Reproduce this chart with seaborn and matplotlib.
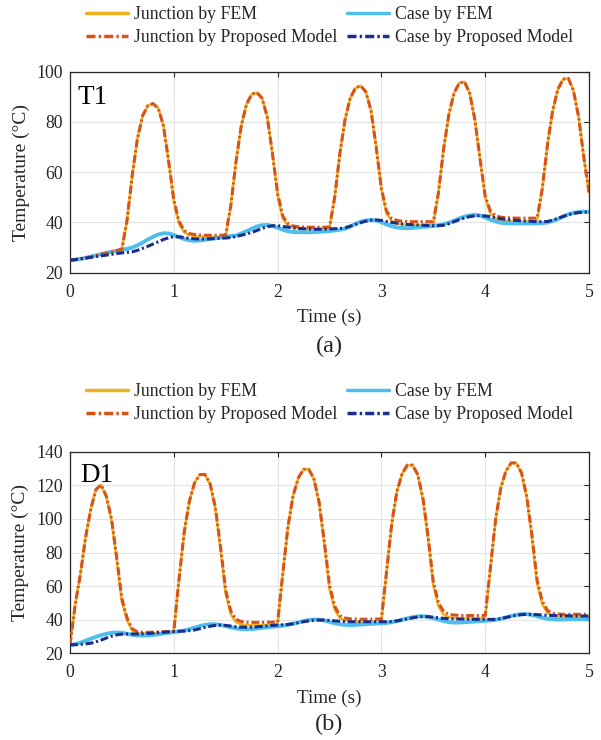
import numpy as np
import matplotlib
matplotlib.use("Agg")
import matplotlib.pyplot as plt
import seaborn as sns

# ---------------- data ----------------
time_s = np.round(np.arange(0, 101) * 0.05, 2)   # 0.00 ... 5.00 s

t1_junction_fem = [
    25.0, 25.3, 25.6, 26.0, 26.4, 26.9, 27.4, 27.9, 28.4, 28.9,
    29.5, 41.0, 59.0, 73.5, 82.5, 86.5, 87.3, 85.5, 78.5, 64.5,
    48.5, 39.5, 36.0, 35.0, 34.6, 34.4, 34.3, 34.3, 34.3, 34.4,
    34.6, 47.0, 64.5, 78.5, 87.0, 91.0, 91.7, 89.5, 82.0, 67.5,
    51.0, 41.5, 38.8, 38.0, 37.7, 37.5, 37.4, 37.4, 37.4, 37.5,
    37.7, 50.0, 67.5, 81.0, 89.5, 93.5, 94.4, 92.0, 84.5, 70.0,
    53.0, 43.5, 40.5, 39.6, 39.2, 39.0, 38.9, 38.9, 39.0, 39.1,
    39.3, 52.0, 69.5, 83.0, 91.5, 95.5, 96.0, 91.5, 81.0, 65.0,
    50.0, 43.5, 41.5, 40.8, 40.5, 40.4, 40.3, 40.3, 40.4, 40.5,
    40.7, 53.5, 71.0, 84.5, 93.0, 97.0, 97.4, 92.5, 82.0, 66.0,
    52.0]

t1_junction_model = [
    25.0, 25.2, 25.5, 25.9, 26.3, 26.8, 27.3, 27.8, 28.3, 28.8,
    29.4, 41.0, 59.0, 73.5, 82.5, 86.5, 87.3, 85.5, 78.5, 64.5,
    49.0, 40.5, 36.8, 35.6, 35.2, 35.0, 34.9, 34.9, 34.9, 34.9,
    35.0, 47.0, 64.5, 78.5, 87.0, 91.0, 91.7, 89.5, 82.0, 67.5,
    51.5, 42.5, 39.5, 38.6, 38.3, 38.2, 38.1, 38.1, 38.1, 38.1,
    38.2, 50.0, 67.5, 81.0, 89.5, 93.5, 94.4, 92.0, 84.5, 70.0,
    53.5, 44.5, 41.5, 40.8, 40.5, 40.4, 40.3, 40.3, 40.3, 40.3,
    40.3, 52.0, 69.5, 83.0, 91.5, 95.5, 96.0, 91.5, 81.0, 65.5,
    50.5, 44.5, 42.7, 42.1, 41.9, 41.8, 41.7, 41.7, 41.7, 41.7,
    41.7, 53.5, 71.0, 84.5, 93.0, 97.0, 97.4, 92.5, 82.0, 66.0,
    52.0]

t1_case_fem = [
    25.0, 25.2, 25.5, 25.9, 26.4, 26.9, 27.4, 27.9, 28.3, 28.7,
    29.1, 29.5, 30.0, 30.9, 32.0, 33.2, 34.3, 35.2, 35.7, 35.6,
    35.0, 34.2, 33.4, 32.9, 32.7, 32.8, 33.1, 33.4, 33.7, 34.0,
    34.3, 34.6, 34.8, 35.6, 36.5, 37.5, 38.4, 38.9, 39.0, 38.6,
    37.9, 37.1, 36.5, 36.2, 36.1, 36.1, 36.1, 36.2, 36.3, 36.4,
    36.6, 36.8, 37.1, 37.5, 38.4, 39.4, 40.3, 40.8, 41.0, 40.8,
    40.1, 39.2, 38.5, 38.0, 37.8, 37.7, 37.8, 38.0, 38.2, 38.4,
    38.6, 38.9, 39.3, 39.9, 40.7, 41.6, 42.3, 42.8, 43.0, 42.8,
    42.0, 41.1, 40.4, 39.9, 39.7, 39.6, 39.6, 39.6, 39.6, 39.6,
    39.6, 39.7, 40.0, 40.6, 41.4, 42.3, 43.2, 43.8, 44.2, 44.3,
    44.2]

t1_case_model = [
    25.0, 25.2, 25.5, 25.8, 26.1, 26.4, 26.7, 27.0, 27.3, 27.6,
    27.9, 28.1, 28.3, 28.9, 29.7, 30.5, 31.4, 32.3, 33.2, 33.9,
    34.3, 34.3, 34.0, 33.7, 33.5, 33.4, 33.4, 33.5, 33.6, 33.7,
    33.8, 34.0, 34.4, 34.9, 35.4, 36.0, 36.8, 37.6, 38.3, 38.7,
    38.7, 38.4, 38.1, 37.8, 37.6, 37.5, 37.4, 37.3, 37.3, 37.3,
    37.4, 37.5, 37.6, 37.9, 38.5, 39.2, 39.9, 40.5, 40.9, 41.0,
    40.8, 40.4, 40.0, 39.7, 39.4, 39.2, 39.1, 39.0, 38.9, 38.8,
    38.7, 38.7, 38.9, 39.5, 40.3, 41.1, 41.8, 42.3, 42.6, 42.7,
    42.6, 42.3, 41.9, 41.5, 41.2, 41.0, 40.8, 40.6, 40.5, 40.4,
    40.3, 40.3, 40.4, 40.9, 41.6, 42.4, 43.1, 43.6, 43.9, 44.1,
    44.1]

d1_junction_fem = [
    25.0, 49.0, 67.0, 89.0, 105.8, 117.5, 120.3, 113.2, 99.0, 75.5,
    50.6, 39.6, 33.5, 32.0, 31.8, 31.8, 31.9, 32.0, 32.2, 32.4,
    32.7, 64.0, 92.0, 110.5, 121.5, 126.3, 126.5, 120.5, 106.0, 82.0,
    55.5, 43.0, 38.5, 37.2, 36.8, 36.6, 36.6, 36.7, 36.8, 37.0,
    37.2, 67.0, 95.5, 114.0, 124.5, 129.5, 129.5, 123.5, 109.0, 85.0,
    58.5, 46.0, 41.0, 39.5, 39.0, 38.8, 38.7, 38.7, 38.8, 38.9,
    39.0, 68.5, 97.5, 116.5, 127.0, 132.0, 132.0, 126.0, 111.5, 88.0,
    60.5, 48.0, 43.0, 41.5, 41.0, 40.8, 40.7, 40.7, 40.8, 40.9,
    41.0, 70.5, 99.5, 118.5, 128.5, 133.3, 133.3, 127.0, 112.5, 89.0,
    61.5, 49.0, 44.0, 42.3, 41.8, 41.6, 41.5, 41.5, 41.5, 41.6,
    41.6]

d1_junction_model = [
    25.0, 49.0, 67.0, 89.0, 105.8, 117.5, 120.3, 113.5, 100.0, 77.0,
    52.5, 41.0, 34.5, 32.8, 32.5, 32.5, 32.6, 32.7, 32.8, 33.0,
    33.2, 64.0, 92.0, 110.5, 121.5, 126.3, 126.5, 121.0, 107.0, 83.5,
    57.5, 45.0, 40.2, 38.9, 38.5, 38.4, 38.4, 38.4, 38.5, 38.5,
    38.6, 67.5, 95.5, 114.0, 124.5, 129.5, 129.5, 124.0, 110.0, 86.5,
    60.5, 48.0, 42.5, 41.0, 40.5, 40.4, 40.3, 40.3, 40.3, 40.4,
    40.4, 69.0, 97.5, 116.5, 127.0, 132.0, 132.0, 126.5, 112.5, 89.5,
    62.5, 50.0, 44.8, 43.2, 42.8, 42.6, 42.5, 42.5, 42.5, 42.5,
    42.6, 71.0, 99.5, 118.5, 128.5, 133.3, 133.3, 127.5, 113.5, 90.5,
    63.5, 51.0, 45.5, 43.8, 43.4, 43.2, 43.2, 43.2, 43.2, 43.2,
    43.2]

d1_case_fem = [
    25.0, 25.4, 26.3, 27.5, 28.7, 29.8, 30.8, 31.6, 32.2, 32.4,
    32.2, 31.6, 31.0, 30.6, 30.5, 30.6, 30.9, 31.3, 31.8, 32.2,
    32.6, 33.0, 33.6, 34.4, 35.3, 36.2, 36.9, 37.3, 37.3, 36.9,
    36.2, 35.4, 34.8, 34.4, 34.3, 34.4, 34.7, 35.1, 35.5, 35.8,
    36.1, 36.4, 36.9, 37.6, 38.4, 39.2, 39.8, 40.1, 40.0, 39.5,
    38.7, 37.9, 37.3, 36.9, 36.8, 36.9, 37.1, 37.3, 37.5, 37.7,
    37.9, 38.1, 38.5, 39.2, 40.0, 40.8, 41.5, 42.0, 42.1, 41.7,
    40.9, 40.0, 39.2, 38.6, 38.3, 38.3, 38.5, 38.7, 38.9, 39.1,
    39.3, 39.5, 39.9, 40.6, 41.4, 42.2, 42.9, 43.3, 43.3, 42.8,
    42.0, 41.2, 40.6, 40.2, 40.1, 40.1, 40.2, 40.3, 40.4, 40.4,
    40.5]

d1_case_model = [
    25.0, 25.1, 25.3, 25.6, 26.0, 26.8, 27.9, 29.1, 30.2, 31.0,
    31.4, 31.5, 31.5, 31.5, 31.6, 31.8, 32.0, 32.3, 32.5, 32.8,
    33.0, 33.1, 33.2, 33.5, 33.9, 34.6, 35.4, 36.1, 36.6, 36.8,
    36.6, 36.2, 35.8, 35.6, 35.5, 35.6, 35.8, 36.0, 36.3, 36.6,
    36.8, 37.0, 37.2, 37.6, 38.2, 38.8, 39.3, 39.7, 39.8, 39.8,
    39.6, 39.3, 39.1, 38.9, 38.8, 38.8, 38.8, 38.8, 38.8, 38.8,
    38.8, 38.8, 38.9, 39.3, 39.9, 40.5, 41.1, 41.6, 41.8, 41.8,
    41.5, 41.1, 40.8, 40.6, 40.5, 40.4, 40.4, 40.3, 40.2, 40.2,
    40.2, 40.2, 40.2, 40.6, 41.3, 42.0, 42.6, 43.0, 43.2, 43.2,
    43.0, 42.8, 42.6, 42.5, 42.4, 42.3, 42.3, 42.2, 42.2, 42.2,
    42.2]

x_ticks = [0, 1, 2, 3, 4, 5]
t1_yticks = [20, 40, 60, 80, 100]
d1_yticks = [20, 40, 60, 80, 100, 120, 140]
series_labels = ["Junction by FEM", "Case by FEM",
                 "Junction by Proposed Model", "Case by Proposed Model"]

# ---------------- style ----------------
sns.set_style("white")
plt.rcParams['font.family'] = ['Liberation Serif', 'DejaVu Serif']

YEL = '#EDB120'
CYAN = '#4DBEEE'
ORANGE = '#D95319'
NAVY = '#1A2E8C'
DASHDOT = (0, (2.6, 0.9, 0.7, 0.9))
INK = '#262626'

W, H = 601, 740
fig = plt.figure(figsize=(W / 100, H / 100), dpi=100)
ax1 = fig.add_axes([70 / W, 1 - 272.7 / H, 519 / W, 201 / H])
ax2 = fig.add_axes([70 / W, 1 - 653.3 / H, 519 / W, 201.6 / H])


def draw(ax, jf, jm, cf, cm, ylim, yticks, tag, tag_xy, legend_y):
    sns.lineplot(x=time_s, y=jf, ax=ax, color=YEL, lw=1.8,
                 label=series_labels[0], zorder=2)
    sns.lineplot(x=time_s, y=cf, ax=ax, color=CYAN, lw=2.8,
                 label=series_labels[1], zorder=2)
    sns.lineplot(x=time_s, y=jm, ax=ax, color=ORANGE, lw=2.2,
                 linestyle=DASHDOT, label=series_labels[2], zorder=3)
    sns.lineplot(x=time_s, y=cm, ax=ax, color=NAVY, lw=2.2,
                 linestyle=DASHDOT, label=series_labels[3], zorder=3)
    ax.set_xlim(0, 5)
    ax.set_ylim(*ylim)
    ax.set_xticks(x_ticks)
    ax.set_yticks(yticks)
    ax.grid(True, color='#e4e4e4', lw=0.8)
    ax.set_axisbelow(True)
    for s in ax.spines.values():
        s.set_visible(True)
        s.set_color(INK)
        s.set_linewidth(0.9)
    ax.tick_params(direction='in', top=True, right=True, length=3.5,
                   width=0.8, labelsize=12.8, color=INK, labelcolor=INK)
    ax.tick_params(axis='x', pad=8)
    ax.tick_params(axis='y', pad=5)
    ax.set_xlabel('Time (s)', fontsize=13.8, color=INK, labelpad=6)
    ax.set_ylabel('Temperature (°C)', fontsize=14, color=INK, labelpad=5)
    ax.text(tag_xy[0], tag_xy[1], tag, transform=ax.transAxes,
            fontsize=19.5, va='baseline', ha='left', color='black')
    h, l = ax.get_legend_handles_labels()
    order = [0, 2, 1, 3]
    leg = ax.legend([h[i] for i in order], [l[i] for i in order], ncol=2,
                    loc='center', bbox_to_anchor=(329.5 / W, 1 - legend_y / H),
                    bbox_transform=fig.transFigure, frameon=False,
                    fontsize=12.8, handlelength=2.36, handletextpad=0.34,
                    columnspacing=0.56, labelspacing=0.32)
    for ln in leg.get_lines():
        ln.set_linewidth(2.5)


draw(ax1, t1_junction_fem, t1_junction_model, t1_case_fem, t1_case_model,
     (20, 100), t1_yticks, 'T1', (0.015, 0.839), 26)
draw(ax2, d1_junction_fem, d1_junction_model, d1_case_fem, d1_case_model,
     (20, 140), d1_yticks, 'D1', (0.02, 0.851), 403)

fig.text(329.5 / W, 1 - 346 / H, '(a)', ha='center', va='center',
         fontsize=17.5, color=INK)
fig.text(329.5 / W, 1 - 724 / H, '(b)', ha='center', va='center',
         fontsize=17.5, color=INK)

fig.savefig('out.png', dpi=100)
